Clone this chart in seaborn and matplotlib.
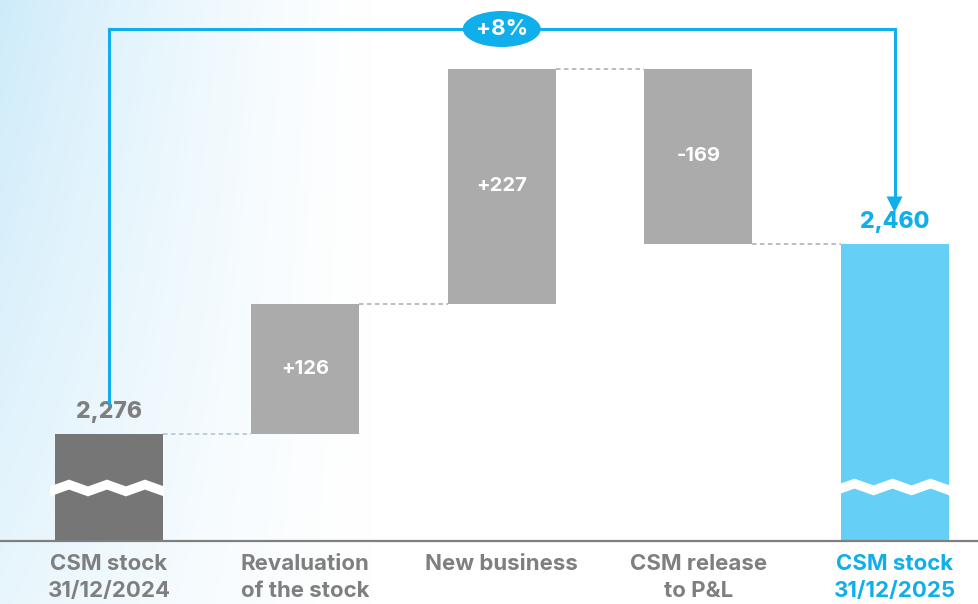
import numpy as np
import pandas as pd
import matplotlib
matplotlib.use("Agg")
import matplotlib.pyplot as plt
from matplotlib.patches import Ellipse, Polygon
import seaborn as sns

# ---- data -------------------------------------------------------------
categories = ["CSM stock\n31/12/2024", "Revaluation\nof the stock", "New business",
              "CSM release\nto P&L", "CSM stock\n31/12/2025"]
opening = 2276
movements = [126, 227, -169]
closing = 2460
growth_label = "+8%"

# ---- styling ----------------------------------------------------------
GREY_DARK = "#767676"
GREY_MID = "#ABABAB"
TEXT_GREY = "#7F7F7F"
BLUE = "#10AEEA"
BLUE_BAR = "#66CFF5"
FONT = ["Inter", "DejaVu Sans"]

sns.set_theme(style="white")
plt.rcParams["font.family"] = FONT

# waterfall geometry computed from the values
running = opening + np.cumsum(movements)
starts = np.concatenate([[opening], running[:-1]])
bottoms = [0] + [min(s, e) for s, e in zip(starts, running)] + [0]
heights = [opening] + [abs(m) for m in movements] + [closing]
df = pd.DataFrame({"step": categories, "height": heights})

fig = plt.figure(figsize=(9.79, 6.04), dpi=100)

# soft blue wash on the left side of the canvas
bg = fig.add_axes([0, 0, 1, 1], zorder=-10)
xx, yy = np.meshgrid(np.linspace(0, 1, 400), np.linspace(0, 1, 250))
t = np.clip(1 - xx / 0.38, 0, 1) ** 1.3 * (0.45 + 0.5 * yy)
c0 = np.array([1.0, 1.0, 1.0])
c1 = np.array([0.80, 0.92, 0.98])
img = c0[None, None, :] * (1 - t[..., None]) + c1[None, None, :] * t[..., None]
bg.imshow(img, extent=[0, 1, 0, 1], origin="lower", aspect="auto")
bg.set_axis_off()

ax = fig.add_axes([0, 63 / 604, 1, 541 / 604])
ax.patch.set_alpha(0)

sns.barplot(data=df, x="step", y="height", bottom=bottoms, color=GREY_MID,
            width=0.55, ax=ax, zorder=2, linewidth=0)
colors = [GREY_DARK, GREY_MID, GREY_MID, GREY_MID, BLUE_BAR]
for p, c in zip(ax.patches, colors):
    p.set_facecolor(c)
    p.set_edgecolor("none")

ax.set_xlim(-0.555, 4.43)
y0 = 2172.6
ax.set_ylim(y0, y0 + 522.7)
ax.set_xlabel("")
ax.set_ylabel("")
ax.set_yticks([])
for s in ["top", "left", "right"]:
    ax.spines[s].set_visible(False)
ax.spines["bottom"].set_color(TEXT_GREY)
ax.spines["bottom"].set_linewidth(1.6)
ax.tick_params(axis="x", length=0, pad=9)
ax.set_xticks(range(len(categories)))
ax.set_xticklabels(categories, fontsize=16, fontweight="bold", linespacing=1.45)
for lbl, c in zip(ax.get_xticklabels(), [TEXT_GREY] * 4 + [BLUE]):
    lbl.set_color(c)

half = 0.55 / 2
px_x = 1 / 196.4
px_y = 522.7 / 541

# dashed connectors between consecutive bars
levels = [opening] + list(running)
dash_cols = ["#AFC2D0", GREY_MID, GREY_MID, GREY_MID]
for i, (lev, dc) in enumerate(zip(levels, dash_cols)):
    ax.plot([i + half, i + 1 - half], [lev, lev], color=dc, lw=1.1,
            ls=(0, (3, 2.2)), zorder=1)

# value labels
ax.text(0, opening + 11, f"{opening:,}", ha="center", va="bottom",
        fontsize=16.5, fontweight="heavy", color=TEXT_GREY)
for i, m in enumerate(movements, start=1):
    ax.text(i, bottoms[i] + heights[i] / 2, f"{m:+d}", ha="center", va="center",
            fontsize=14.5, fontweight="bold", color="white", zorder=3)
ax.text(4, closing + 10, f"{closing:,}", ha="center", va="bottom",
        fontsize=16.5, fontweight="heavy", color=BLUE)

# axis-break zigzags across the two stock bars
def zigzag(ax, xc, yc):
    xs = np.linspace(xc - half - 5 * px_x, xc + half + 1 * px_x, 7)
    amp = 3.4 * px_y
    off = np.array([0, 1, 0, 1, 0, 1, 0]) * 2 - 1
    upper = yc + 5 * px_y + amp * off
    lower = yc - 5 * px_y + amp * off
    pts = np.column_stack([np.r_[xs, xs[::-1]], np.r_[upper, lower[::-1]]])
    ax.add_patch(Polygon(pts, closed=True, facecolor="white", edgecolor="none", zorder=4))

zigzag(ax, 0, y0 + 53 * px_y)
zigzag(ax, 4, y0 + 54 * px_y)

# growth bracket from opening to closing stock
yb = y0 + 512 * px_y
ax.plot([0, 0, 4, 4], [opening + 30, yb, yb, closing + 30 + 15 * px_y],
        color=BLUE, lw=2.2, solid_joinstyle="miter", zorder=5)
tip = closing + 30
ax.add_patch(Polygon([[4 - 8 * px_x, tip + 16 * px_y], [4 + 8 * px_x, tip + 16 * px_y], [4, tip]],
                     closed=True, facecolor=BLUE, edgecolor="none", zorder=5))
ax.add_patch(Ellipse((2.0, yb), 78 * px_x, 36 * px_y, facecolor=BLUE, edgecolor="none",
                     zorder=6, clip_on=False))
ax.text(2.0, yb, growth_label, ha="center", va="center", fontsize=16,
        fontweight="bold", color="white", zorder=7)

fig.savefig("out.png", dpi=100)
